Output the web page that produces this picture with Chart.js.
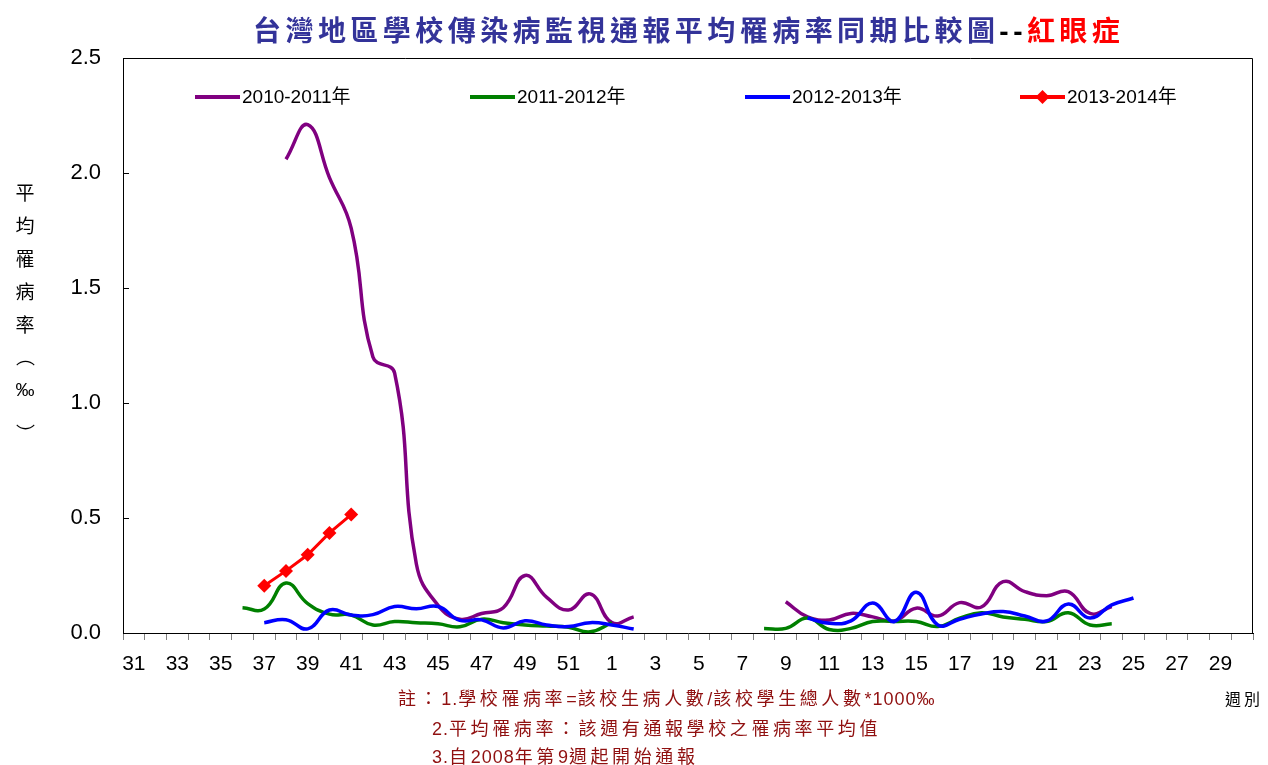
<!DOCTYPE html>
<html>
<head>
<meta charset="utf-8">
<script src="https://cdn.jsdelivr.net/npm/chart.js@4.4.1/dist/chart.umd.min.js"></script>
<style>
  html, body { margin: 0; padding: 0; background: #fff; }
  #wrap { position: relative; width: 1268px; height: 765px; overflow: hidden; background: #fff; }
  #c { position: absolute; left: 0; top: 0; }
  .cjk { font-family: 'Noto Sans CJK TC', 'Noto Sans CJK SC', sans-serif; }
  #title { position: absolute; left: 253px; top: 13px; white-space: nowrap; font-size: 28px; font-weight: 700; letter-spacing: 4.45px; line-height: 32px; color: #333399; }
  #title .dash { color: #000; font-family: 'Liberation Sans', Arial, sans-serif; }
  #title .red { color: #ff0000; }
  #ylab { position: absolute; left: 10px; top: 175px; width: 30px; color: #000; font-size: 19px; }
  #ylab div { height: 33px; line-height: 33px; text-align: center; }
  #ylab .v { writing-mode: vertical-rl; height: 33px; width: 30px; line-height: 30px; text-align: center; }
  #ylab .close { position: relative; top: 11px; }
  #ylab .pm { font-family: 'Liberation Sans', Arial, sans-serif; font-size: 19px; }
  .note { position: absolute; white-space: nowrap; font-size: 18px; letter-spacing: 3.6px; color: #901010; font-family: 'Noto Sans CJK TC', sans-serif; line-height: 22px; }
  .note .lt { font-family: 'Liberation Sans', Arial, sans-serif; font-size: 18px; letter-spacing: 1px; }
  #xunit { position: absolute; left: 1225px; top: 686px; font-size: 16px; letter-spacing: 3px; color: #000; white-space: nowrap; }
</style>
</head>
<body>
<div id="wrap">
  <canvas id="c" width="1268" height="765"></canvas>
  <div id="title" class="cjk">台灣地區學校傳染病監視通報平均罹病率同期比較圖<span class="dash">--</span><span class="red">紅眼症</span></div>
  <div id="ylab" class="cjk"><div>平</div><div>均</div><div>罹</div><div>病</div><div>率</div><div class="v">（</div><div class="pm">‰</div><div class="v close">）</div></div>
  <div class="note" style="left:398px; top:686px;">註：<span class="lt">1.</span>學校罹病率<span class="lt">=</span>該校生病人數<span class="lt">/</span>該校學生總人數<span class="lt">*1000‰</span></div>
  <div class="note" style="left:432px; top:716px;"><span class="lt">2.</span>平均罹病率：該週有通報學校之罹病率平均值</div>
  <div class="note" style="left:432px; top:744px;"><span class="lt">3.</span>自<span class="lt">2008</span>年第<span class="lt">9</span>週起開始通報</div>
  <div id="xunit" class="cjk">週別</div>
</div>
<script>
// Week categories (31..52, then 1..30)
const weeks = ['31','32','33','34','35','36','37','38','39','40','41','42','43','44','45','46','47','48','49','50','51','52',
  '1','2','3','4','5','6','7','8','9','10','11','12','13','14','15','16','17','18','19','20','21','22','23','24','25','26','27','28','29','30'];

const seriesNames = ['2010-2011年', '2011-2012年', '2012-2013年', '2013-2014年'];

// 2010-2011
const s2010 = [null,null,null,null,null,null,null,
  2.06,2.21,1.98,1.76,1.20,1.13,0.30,0.12,0.06,0.085,0.11,0.25,0.155,0.10,0.17,
  0.045,0.07,null,null,null,null,null,null,
  0.136,0.07,0.057,0.085,0.07,0.052,0.108,0.074,0.132,0.113,0.223,0.18,0.162,0.18,0.085,0.115,
  null,null,null,null,null,null];
// 2011-2012
const s2011 = [null,null,null,null,null,
  0.11,0.104,0.217,0.128,0.082,0.078,0.035,0.05,0.045,0.04,0.027,0.06,0.045,0.035,0.03,0.025,0.005,
  0.045,null,null,null,null,null,null,
  0.02,0.02,0.065,0.015,0.02,0.05,0.05,0.05,0.028,0.064,0.088,0.07,0.06,0.05,0.088,0.035,0.04,
  null,null,null,null,null,null];
// 2012-2013
const s2012 = [null,null,null,null,null,null,
  0.045,0.058,0.018,0.10,0.078,0.08,0.115,0.105,0.115,0.055,0.057,0.022,0.053,0.035,0.028,0.045,
  0.035,0.017,null,null,null,null,null,null,null,
  0.065,0.042,0.053,0.13,0.05,0.177,0.035,0.06,0.083,0.093,0.074,0.052,0.126,0.065,0.122,0.152,
  null,null,null,null,null];
// 2013-2014
const s2013 = [null,null,null,null,null,null,
  0.205,0.27,0.34,0.435,0.515,
  null,null,null,null,null,null,null,null,null,null,null,
  null,null,null,null,null,null,null,null,null,null,null,null,null,null,null,null,null,null,null,null,null,null,null,null,null,null,null,null,null,null];

const yTicks = { min: 0, max: 2.5, step: 0.5 };

const colors = ['#800080', '#008000', '#0000ff', '#ff0000'];
const yFont = { family: "'Liberation Sans', Arial, sans-serif", size: 22 };
const xFont = { family: "'Liberation Sans', Arial, sans-serif", size: 21 };

const framePlugin = {
  id: 'frame',
  afterDraw(chart) {
    const { ctx, chartArea: a } = chart;
    ctx.save();
    ctx.strokeStyle = '#000';
    ctx.lineWidth = 1;
    ctx.beginPath();
    ctx.moveTo(Math.round(a.left) + 0.5, Math.round(a.top) + 0.5);
    ctx.lineTo(Math.round(a.right) - 0.5, Math.round(a.top) + 0.5);
    ctx.lineTo(Math.round(a.right) - 0.5, Math.round(a.bottom) + 0.5);
    ctx.stroke();
    // inner tick marks on the y axis
    const ys = chart.scales.y;
    ctx.beginPath();
    ys.ticks.forEach(t => {
      const py = Math.round(ys.getPixelForValue(t.value)) + 0.5;
      ctx.moveTo(a.left, py);
      ctx.lineTo(a.left + 6, py);
    });
    ctx.stroke();
    ctx.restore();
  }
};

const legendPlugin = {
  id: 'inlegend',
  afterDraw(chart) {
    const { ctx } = chart;
    const starts = [195, 470, 745, 1020];
    const y = 97;
    ctx.save();
    chart.data.datasets.forEach((ds, i) => {
      const x = starts[i];
      ctx.strokeStyle = ds.borderColor;
      ctx.lineWidth = 4;
      ctx.beginPath();
      ctx.moveTo(x, y);
      ctx.lineTo(x + 45, y);
      ctx.stroke();
      if (ds.pointStyle === 'rectRot') {
        ctx.fillStyle = ds.borderColor;
        const cx = x + 22.5, r = 7;
        ctx.beginPath();
        ctx.moveTo(cx, y - r); ctx.lineTo(cx + r, y); ctx.lineTo(cx, y + r); ctx.lineTo(cx - r, y);
        ctx.closePath();
        ctx.fill();
      }
      ctx.fillStyle = '#000';
      ctx.font = "19px 'Liberation Sans', 'Noto Sans CJK TC', sans-serif";
      ctx.textBaseline = 'middle';
      ctx.textAlign = 'left';
      ctx.fillText(ds.label, x + 47, y + 1);
    });
    ctx.restore();
  }
};

const mk = (i, data, extra) => Object.assign({
  label: seriesNames[i],
  data: data,
  borderColor: colors[i],
  backgroundColor: colors[i],
  borderWidth: 3.5,
  pointRadius: 0,
  tension: 0.45,
  spanGaps: false,
  fill: false,
  order: 4 - i
}, extra || {});

new Chart(document.getElementById('c'), {
  type: 'line',
  data: {
    labels: weeks,
    datasets: [
      mk(0, s2010),
      mk(1, s2011),
      mk(2, s2012),
      mk(3, s2013, { tension: 0, borderWidth: 3, pointStyle: 'rectRot', pointRadius: 7, pointBorderWidth: 0, pointBackgroundColor: colors[3] })
    ]
  },
  options: {
    responsive: false,
    animation: false,
    devicePixelRatio: 1,
    layout: { padding: { left: 0, right: 15, top: 58, bottom: 0 } },
    plugins: { legend: { display: false }, title: { display: false }, tooltip: { enabled: false } },
    scales: {
      x: {
        offset: true,
        grid: { offset: true, drawOnChartArea: false, drawTicks: true, tickLength: 7, color: '#808080', lineWidth: 1 },
        border: { color: '#000', width: 1 },
        ticks: {
          autoSkip: false, maxRotation: 0, minRotation: 0, padding: 12, color: '#000', font: xFont,
          callback: (v, i) => (i % 2 === 0 ? weeks[i] : '')
        },
        afterFit: s => { s.height = 132; }
      },
      y: {
        min: yTicks.min, max: yTicks.max,
        grid: { drawOnChartArea: false, drawTicks: false },
        border: { color: '#000', width: 1 },
        ticks: { stepSize: yTicks.step, padding: 22, color: '#000', font: yFont, callback: v => v.toFixed(1) },
        afterFit: s => { s.width = 123; }
      }
    }
  },
  plugins: [framePlugin, legendPlugin]
});
</script>
</body>
</html>
